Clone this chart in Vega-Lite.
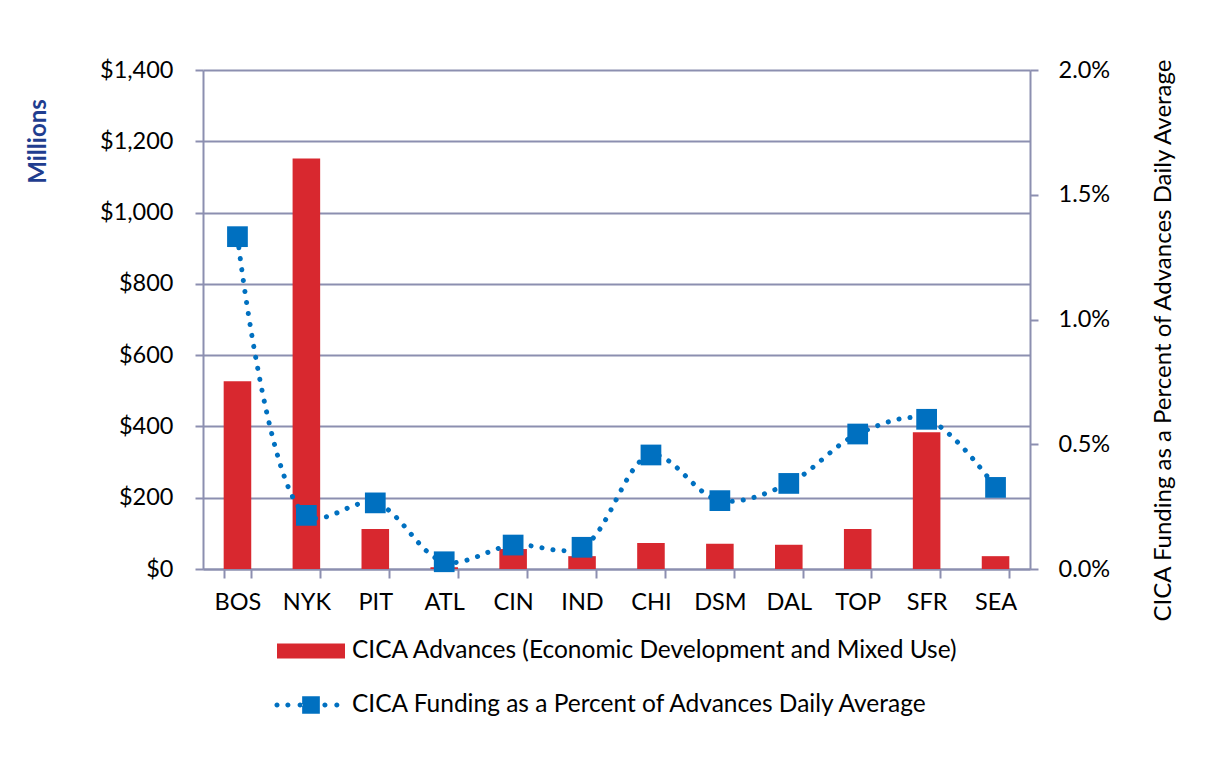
{
  "$schema": "https://vega.github.io/schema/vega-lite/v6.json",
  "width": 827,
  "height": 499,
  "autosize": {"type": "none"},
  "padding": {"left": 203, "top": 70, "right": 175, "bottom": 189},
  "background": "white",
  "config": {
    "view": {"stroke": null},
    "font": "Lato",
    "axis": {"labelFont": "Lato", "titleFont": "Lato", "labelColor": "black", "titleColor": "black", "labelFontSize": 23.5, "titleFontSize": 24, "domainColor": "#8c8fb0", "tickColor": "#8c8fb0", "gridColor": "#8c8fb0", "domainWidth": 2, "tickWidth": 2, "gridWidth": 2, "tickSize": 8},
    "legend": {"labelFont": "Lato", "labelFontSize": 24.5, "labelColor": "black", "labelLimit": 900}
  },
  "data": {
    "values": [
      {"bank": "BOS", "adv": 527, "pct": 0.01332},
      {"bank": "NYK", "adv": 1152, "pct": 0.00215},
      {"bank": "PIT", "adv": 112, "pct": 0.00265},
      {"bank": "ATL", "adv": 5, "pct": 0.00029},
      {"bank": "CIN", "adv": 56, "pct": 0.00096},
      {"bank": "IND", "adv": 36, "pct": 0.00087},
      {"bank": "CHI", "adv": 73, "pct": 0.00457},
      {"bank": "DSM", "adv": 71, "pct": 0.00274},
      {"bank": "DAL", "adv": 68, "pct": 0.00343},
      {"bank": "TOP", "adv": 112, "pct": 0.00541},
      {"bank": "SFR", "adv": 384, "pct": 0.006},
      {"bank": "SEA", "adv": 36, "pct": 0.00327}
    ]
  },
  "encoding": {
    "x": {
      "field": "bank", "type": "nominal", "sort": null,
      "scale": {"paddingInner": 0.6, "paddingOuter": 0.3},
      "axis": {"title": null, "labelAngle": 0, "tickBand": "extent", "tickSize": 9, "labelPadding": 12}
    }
  },
  "layer": [
    {
      "mark": {"type": "bar"},
      "encoding": {
        "y": {
          "field": "adv", "type": "quantitative",
          "scale": {"domain": [0, 1400], "nice": false},
          "axis": {
            "orient": "left", "values": [0, 200, 400, 600, 800, 1000, 1200, 1400],
            "labelExpr": "'$' + format(datum.value, ',')",
            "grid": true, "labelPadding": 22,
            "title": "Millions", "titleFontWeight": "bold", "titleColor": "#1f3d8f",
            "titleAngle": -90, "titleX": -165, "titleY": 71, "titleAlign": "center", "titleBaseline": "middle"
          }
        },
        "color": {
          "datum": "CICA Advances (Economic Development and Mixed Use)", "type": "nominal",
          "scale": {"range": ["#d8282f"]},
          "legend": {"orient": "none", "legendX": 74, "legendY": 547, "title": null, "symbolType": "M-1,-0.22H1V0.22H-1Z", "symbolSize": 4624, "symbolStrokeWidth": 0, "labelOffset": 7}
        }
      }
    },
    {
      "encoding": {
        "y": {
          "field": "pct", "type": "quantitative",
          "scale": {"domain": [0, 0.02], "nice": false},
          "axis": {
            "orient": "right", "values": [0, 0.005, 0.01, 0.015, 0.02], "format": ".1%",
            "grid": false, "labelPadding": 20,
            "title": "CICA Funding as a Percent of Advances Daily Average", "titleFontWeight": "normal",
            "titleAngle": -90, "titleX": 133, "titleY": 270, "titleAlign": "center", "titleBaseline": "middle"
          }
        }
      },
      "layer": [
        {
          "mark": {"type": "line", "interpolate": "catmull-rom", "strokeWidth": 5, "strokeDash": [0.1, 11], "strokeCap": "round", "color": "#0070c0"}
        },
        {
          "mark": {"type": "point", "shape": "square", "filled": true, "size": 430, "opacity": 1},
          "encoding": {
            "color": {
              "datum": "CICA Funding as a Percent of Advances Daily Average", "type": "nominal",
              "scale": {"range": ["#0070c0"]},
              "legend": {"orient": "none", "legendX": 74, "legendY": 601, "title": null, "symbolType": "M-0.26,-0.26H0.26V0.26H-0.26Z M-1.075,0a0.075,0.075 0 1,0 0.15,0a0.075,0.075 0 1,0 -0.15,0Z M-0.755,0a0.075,0.075 0 1,0 0.15,0a0.075,0.075 0 1,0 -0.15,0Z M-0.395,0a0.075,0.075 0 1,0 0.15,0a0.075,0.075 0 1,0 -0.15,0Z M0.335,0a0.075,0.075 0 1,0 0.15,0a0.075,0.075 0 1,0 -0.15,0Z M0.685,0a0.075,0.075 0 1,0 0.15,0a0.075,0.075 0 1,0 -0.15,0Z", "symbolSize": 4624, "symbolStrokeWidth": 0, "symbolOpacity": 1, "labelOffset": 7}
            }
          }
        }
      ]
    }
  ],
  "resolve": {"scale": {"y": "independent", "color": "independent"}}
}
